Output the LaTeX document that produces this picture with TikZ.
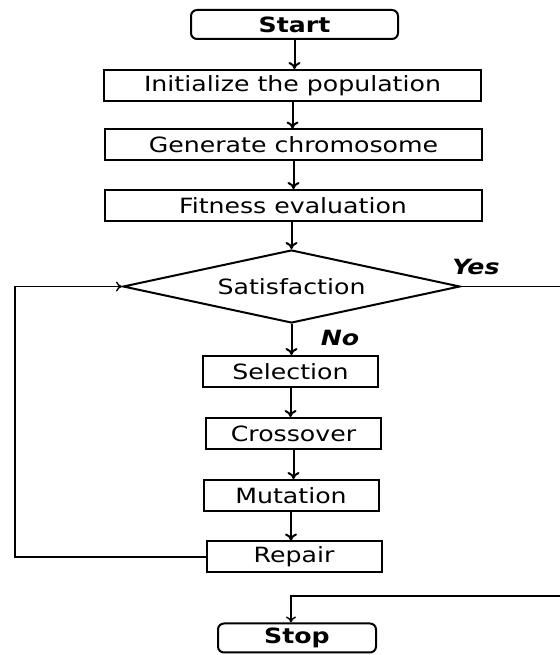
\documentclass[tikz,border=0pt]{standalone}
\usepackage{fontspec}
\setmainfont[FakeStretch=1.2]{DejaVu Sans}
\usetikzlibrary{shapes.geometric, arrows.meta}

\tikzset{
    stepbox/.style={draw, line width=1pt, minimum height=15.5pt, inner sep=0pt, font=\fontsize{10.5}{12}\selectfont},
    wide/.style={stepbox, minimum width=188.5pt},
    narrow/.style={stepbox, minimum width=87.5pt},
    terminal/.style={draw, line width=1pt, rounded corners=3pt, minimum height=14.5pt, inner sep=0pt, font=\fontsize{10.5}{12}\selectfont\bfseries},
    arr/.style={-{To[length=3.5pt,width=6pt]}, line width=1pt},
    thinarr/.style={-{To[length=3pt,width=5pt]}, line width=0.7pt}
}

\begin{document}
\begin{tikzpicture}[x=0.5pt, y=0.5pt]
        \useasboundingbox (0,0) rectangle (560,655);
        \node[terminal, minimum width=103.5pt] (start) at (294.5,630.5) {Start};
        \node[wide] (init) at (292.5,569.5) {Initialize the population};
        \node[wide] (gen) at (293.5,510) {Generate chromosome};
        \node[wide] (fit) at (293,449.5) {Fitness evaluation};
        \node[draw, diamond, aspect=4.6, line width=1pt, minimum width=168.5pt, minimum height=36.5pt, inner sep=0pt,
              font=\fontsize{10.5}{12}\selectfont] (sat) at (291.5,368.5) {Satisfaction};
        \node[narrow] (sel) at (290.5,283.5) {Selection};
        \node[narrow] (cross) at (293.5,221.5) {Crossover};
        \node[narrow] (mut) at (291,159.5) {Mutation};
        \node[narrow] (rep) at (294,98) {Repair};
        \node[terminal, minimum width=79pt] (stop) at (297,17) {Stop};
        \node[font=\fontsize{10.5}{12}\selectfont\bfseries\itshape] (yes) at (476,388) {Yes};
        \node[font=\fontsize{10.5}{12}\selectfont\bfseries\itshape] (no) at (340,317) {No};
        \draw[arr] (start) -- (start |- init.north);
        \draw[arr] (init) -- (init |- gen.north);
        \draw[arr] (gen) -- (gen |- fit.north);
        \draw[arr] (sat.north |- fit.south) -- (sat.north);
        \draw[arr] (sat.south) -- (sat.south |- sel.north);
        \draw[arr] (sel) -- (sel |- cross.north);
        \draw[arr] (cross) -- (cross |- mut.north);
        \draw[arr] (mut) -- (mut |- rep.north);
        % loop back to the test
        \coordinate (back) at (15,98);
        \draw[thinarr] (rep.west) -- (back) |- (sat.west);
        % yes branch leaves the page on the right
        \coordinate (yesend) at (580,368.5);
        \coordinate (stopin) at (580,59);
        \draw[thinarr] (sat.east) -- (yesend) -- (stopin) -| ([xshift=-3pt]stop.north);
    \end{tikzpicture}
\end{document}
